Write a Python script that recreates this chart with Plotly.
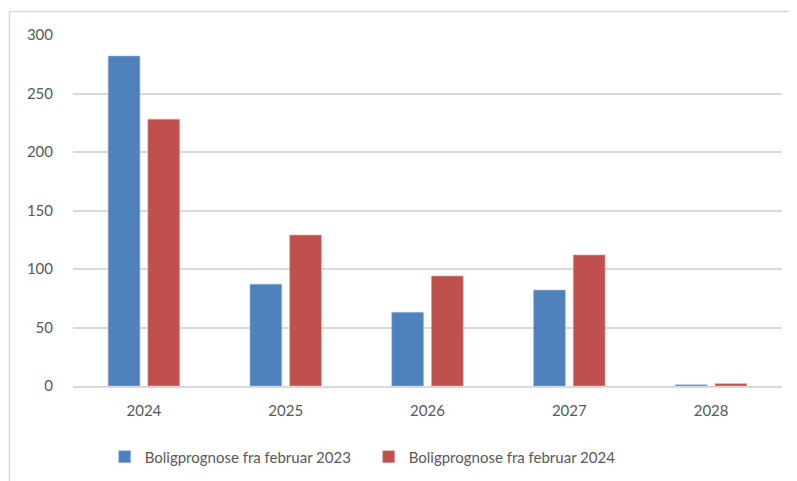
import plotly.graph_objects as go

years = ["2024", "2025", "2026", "2027", "2028"]
prognose_2023 = [282, 87, 63, 82, 1]
prognose_2024 = [228, 129, 94, 112, 2]

fig = go.Figure()
fig.add_trace(go.Bar(x=years, y=prognose_2023, name="Boligprognose fra februar 2023",
                     marker=dict(color="#4f81bd", line=dict(color="#9fb9dc", width=0.6))))
fig.add_trace(go.Bar(x=years, y=prognose_2024, name="Boligprognose fra februar 2024",
                     marker=dict(color="#c0504d", line=dict(color="#e0a3a1", width=0.6))))

# outer chart frame (like the Excel chart area)
fig.add_shape(type="rect", xref="paper", yref="paper",
              x0=(1.5 - 65) / 709, x1=1.05, y0=-0.3, y1=(378 - 3.5) / 351,
              line=dict(color="#d9d9d9", width=1.5), layer="below")

# page body has an 8px margin, so the figure is 8px smaller each way
fig.update_layout(
    width=789, height=473,
    margin=dict(l=65, r=15, t=27, b=95, autoexpand=False),
    paper_bgcolor="white", plot_bgcolor="white",
    font=dict(family="Lato, Carlito, Calibri, sans-serif", size=15, color="#595959"),
    barmode="group", bargap=0.44, bargroupgap=0.2,
    showlegend=True,
    legend=dict(orientation="h", x=0.417, xanchor="center", y=-0.202, yanchor="middle",
                font=dict(size=15, color="#595959"), itemwidth=30, tracegroupgap=0,
                entrywidth=219),
)
fig.update_xaxes(showgrid=False, showline=True, linecolor="#d9d9d9", linewidth=1.5,
                 ticks="outside", ticklen=10, tickcolor="rgba(0,0,0,0)", automargin=False)
fig.update_yaxes(range=[0, 300], dtick=50, showgrid=True, gridcolor="#d9d9d9", gridwidth=1.5,
                 zeroline=False, showline=False, automargin=False,
                 ticks="outside", ticklen=16, tickcolor="rgba(0,0,0,0)")

fig.write_html("out.html")
